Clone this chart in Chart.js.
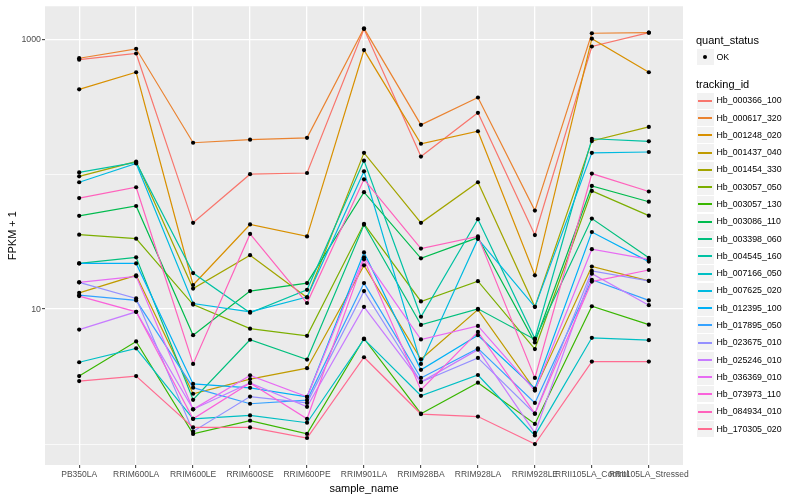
<!DOCTYPE html>
<html><head><meta charset="utf-8">
<script src="https://cdn.jsdelivr.net/npm/chart.js@4"></script>
<style>
body{margin:0;background:#fff;}
#wrap{position:relative;width:800px;height:500px;font-family:"Liberation Sans",Arial,Helvetica,sans-serif;}
canvas{position:absolute;left:0;top:0;}
.lt{position:absolute;font-size:11px;color:#000;white-space:nowrap;line-height:1;}
.li{position:absolute;font-size:8.8px;color:#000;white-space:nowrap;line-height:1;}
.key{position:absolute;background:#F2F2F2;}
.kl{position:absolute;}
.dot{position:absolute;background:#000;border-radius:50%;}
</style></head><body>
<div id="wrap"><canvas id="c" width="800" height="500"></canvas><div id="legend"></div></div>
<script>
// ---- data ----
const samples = ["PB350LA","RRIM600LA","RRIM600LE","RRIM600SE","RRIM600PE","RRIM901LA","RRIM928BA","RRIM928LA","RRIM928LE","RRII105LA_Control","RRII105LA_Stressed"];
const trackingIds = ["Hb_000366_100","Hb_000617_320","Hb_001248_020","Hb_001437_040","Hb_001454_330","Hb_003057_050","Hb_003057_130","Hb_003086_110","Hb_003398_060","Hb_004545_160","Hb_007166_050","Hb_007625_020","Hb_012395_100","Hb_017895_050","Hb_023675_010","Hb_025246_010","Hb_036369_010","Hb_073973_110","Hb_084934_010","Hb_170305_020"];
const hb_000366_100 = [705, 784, 43.6, 100, 102, 1190, 135, 285, 35.4, 883, 1118];
const hb_000617_320 = [723, 849, 171, 180, 186, 1204, 232, 370, 53.7, 1107, 1118];
const hb_001248_020 = [425, 569, 15.1, 42.4, 34.6, 831, 168, 208, 17.8, 1010, 569];
const hb_001437_040 = [13.2, 17.8, 2.36, 3.03, 3.65, 21.1, 4.25, 9.93, 2.52, 20.7, 16.2];
const hb_001454_330 = [96.4, 124, 14.2, 25.1, 12.2, 144, 43.6, 87.1, 10.4, 176, 224];
const hb_003057_050 = [35.6, 33.3, 10.8, 7.17, 6.34, 42.9, 11.4, 16.1, 5.06, 75.2, 49.3];
const hb_003057_130 = [3.19, 5.76, 1.19, 1.49, 1.19, 6.06, 1.68, 2.85, 1.41, 10.5, 7.67];
const hb_003086_110 = [49.1, 58.1, 6.41, 13.6, 15.6, 73.6, 23.8, 33.9, 5.66, 81.8, 62.5];
const hb_003398_060 = [21.8, 24.2, 2.13, 5.93, 4.23, 42.2, 7.64, 10.05, 5.96, 46.9, 24.0];
const hb_004545_160 = [103, 122, 18.5, 9.40, 13.9, 126, 8.78, 46.4, 6.06, 183, 175];
const hb_007166_050 = [4.04, 5.12, 1.54, 1.63, 1.44, 5.99, 2.28, 3.25, 1.16, 6.13, 5.89];
const hb_007625_020 = [87.1, 120, 11.0, 9.55, 12.3, 105, 3.93, 33.1, 10.4, 144, 146];
const hb_012395_100 = [21.8, 21.8, 2.79, 2.61, 2.24, 26.3, 3.55, 6.41, 2.58, 37.3, 22.5];
const hb_017895_050 = [12.7, 11.6, 2.62, 1.99, 2.12, 15.6, 3.09, 5.12, 2.02, 16.5, 11.6];
const hb_023675_010 = [15.8, 12.0, 1.24, 2.25, 2.02, 13.6, 2.88, 4.35, 1.68, 19.2, 16.2];
const hb_025246_010 = [7.05, 9.55, 1.81, 2.84, 1.89, 10.4, 2.88, 5.01, 1.21, 18.3, 10.7];
const hb_036369_010 = [15.8, 17.5, 1.81, 3.23, 2.24, 24.2, 5.96, 7.51, 2.49, 27.8, 23.4];
const hb_073973_110 = [12.5, 9.55, 1.54, 2.84, 1.54, 23.4, 2.52, 6.78, 1.68, 16.0, 19.5];
const hb_084934_010 = [66.5, 80.0, 3.93, 36.1, 11.1, 91.6, 28.1, 34.6, 3.09, 101, 74.4];
const hb_170305_020 = [2.93, 3.19, 1.33, 1.33, 1.11, 4.40, 1.67, 1.60, 1.00, 4.09, 4.09];
const seriesValues = [hb_000366_100,hb_000617_320,hb_001248_020,hb_001437_040,hb_001454_330,hb_003057_050,hb_003057_130,hb_003086_110,hb_003398_060,hb_004545_160,hb_007166_050,hb_007625_020,hb_012395_100,hb_017895_050,hb_023675_010,hb_025246_010,hb_036369_010,hb_073973_110,hb_084934_010,hb_170305_020];
const yTickValues = [1, 10, 100, 1000];
const yTickLabels = {10: "10", 1000: "1000"};
const quantStatus = ["OK"];

// ---- styles ----
const colours = ["#F8766D","#EA8331","#D89000","#C09B00","#A3A500","#7CAE00","#39B600","#00BB4E","#00BF7D","#00C1A3","#00BFC4","#00BAE0","#00B0F6","#35A2FF","#9590FF","#C77CFF","#E76BF3","#FA62DB","#FF62BC","#FF6C91"];
const FONT = '"Liberation Sans", Arial, Helvetica, sans-serif';

const datasets = seriesValues.map((vals, k) => ({
  label: trackingIds[k],
  data: vals.map((v, i) => ({x: i, y: v})),
  borderColor: colours[k],
  backgroundColor: colours[k],
  borderWidth: 1.2,
  pointRadius: 0,
  tension: 0,
  fill: false,
  order: 100 - k
}));
const allPoints = [];
seriesValues.forEach(vals => vals.forEach((v, i) => allPoints.push({x: i, y: v})));
datasets.push({
  label: "points", data: allPoints, showLine: false,
  pointRadius: 2.1, pointBackgroundColor: "#000", pointBorderWidth: 0, borderColor: "#000", order: 0
});

const panelBg = {
  id: "panelBg",
  beforeDraw(chart) {
    const {ctx, chartArea: a} = chart;
    ctx.save(); ctx.fillStyle = "#EBEBEB";
    ctx.fillRect(a.left, a.top, a.right - a.left, a.bottom - a.top);
    ctx.restore();
  }
};

const isMajor = v => v === 10 || v === 1000;

new Chart(document.getElementById("c"), {
  type: "line",
  data: {datasets},
  plugins: [panelBg],
  options: {
    responsive: false, animation: false, devicePixelRatio: 1,
    layout: {padding: {top: 5, right: 117, left: 0, bottom: 0}},
    plugins: {legend: {display: false}, tooltip: {enabled: false}},
    scales: {
      x: {
        type: "linear", min: -0.6, max: 10.6,
        afterBuildTicks: s => { s.ticks = samples.map((_, i) => ({value: i})); },
        afterFit: s => { s.height = 35; },
        ticks: {callback: v => samples[v], autoSkip: false, maxRotation: 0, minRotation: 0,
                font: {size: 8.5, family: FONT}, color: "#4D4D4D", padding: 2},
        grid: {color: "#FFFFFF", lineWidth: 1.3, drawTicks: true, tickLength: 3, tickColor: "#333333", tickWidth: 1},
        border: {display: false},
        title: {display: true, text: "sample_name", color: "#000", font: {size: 11, family: FONT}, padding: {top: 0, bottom: 4}}
      },
      y: {
        type: "logarithmic", min: 0.745, max: 1754,
        afterBuildTicks: s => { s.ticks = yTickValues.map(v => ({value: v})); },
        afterFit: s => { s.width = 45; },
        ticks: {callback: v => yTickLabels[v] || "", autoSkip: false,
                font: {size: 8.8, family: FONT}, color: "#4D4D4D", padding: 1},
        grid: {color: "#FFFFFF",
               lineWidth: c => (c.tick && isMajor(c.tick.value)) ? 1.3 : 0.7,
               drawTicks: true, tickLength: 3,
               tickColor: c => (c.tick && isMajor(c.tick.value)) ? "#333333" : "rgba(0,0,0,0)", tickWidth: 1},
        border: {display: false},
        title: {display: true, text: "FPKM + 1", color: "#000", font: {size: 11, family: FONT}, padding: {top: 6, bottom: 0}}
      }
    }
  }
});

// ---- legend (HTML text) ----
const lg = document.getElementById("legend");
function el(cls, css, text) {
  const d = document.createElement("div"); d.className = cls;
  Object.assign(d.style, css); if (text) d.textContent = text; lg.appendChild(d); return d;
}
el("lt", {left: "696px", top: "35.2px"}, "quant_status");
el("key", {left: "697px", top: "49px", width: "17px", height: "16px"});
el("dot", {left: "703px", top: "55px", width: "4px", height: "4px"});
el("li", {left: "716.5px", top: "52.7px"}, quantStatus[0]);
el("lt", {left: "696px", top: "78.5px"}, "tracking_id");
trackingIds.forEach((id, i) => {
  const cy = 100.7 + 17.28 * i;
  el("key", {left: "697px", top: Math.round(cy - 8.14) + "px", width: "17px", height: "16px"});
  el("kl", {left: "698px", top: Math.round(cy - 1) + "px", width: "14px", height: "2px", background: colours[i]});
  el("li", {left: "716.5px", top: (cy - 4.4) + "px"}, id);
});
</script>
</body></html>
